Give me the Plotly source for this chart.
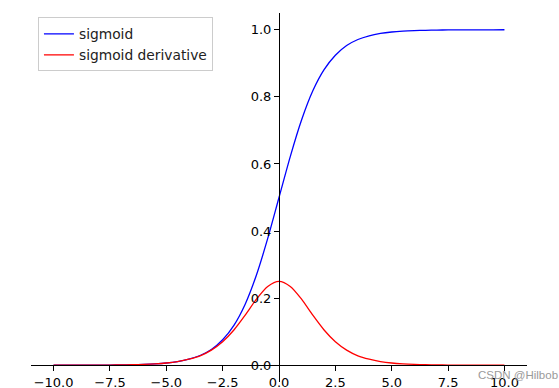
import plotly.graph_objects as go

x_vals = [-10, -9.5, -9, -8.5, -8, -7.5, -7, -6.5, -6, -5.5, -5, -4.5, -4, -3.5, -3,
          -2.5, -2, -1.5, -1, -0.5, 0, 0.5, 1, 1.5, 2, 2.5, 3, 3.5, 4, 4.5, 5,
          5.5, 6, 6.5, 7, 7.5, 8, 8.5, 9, 9.5, 10]
sigmoid_vals = [0.0000, 0.0001, 0.0001, 0.0002, 0.0003, 0.0006, 0.0009, 0.0015, 0.0025,
                0.0041, 0.0067, 0.011, 0.018, 0.029, 0.047, 0.076, 0.119, 0.182, 0.269,
                0.378, 0.500, 0.622, 0.731, 0.818, 0.881, 0.924, 0.953, 0.971, 0.982,
                0.989, 0.9933, 0.9959, 0.9975, 0.9985, 0.9991, 0.9994, 0.9997, 0.9998,
                0.9999, 0.9999, 1.0000]
deriv_vals = [0.0000, 0.0001, 0.0001, 0.0002, 0.0003, 0.0006, 0.0009, 0.0015, 0.0025,
              0.0041, 0.0066, 0.011, 0.018, 0.028, 0.045, 0.070, 0.105, 0.149, 0.197,
              0.235, 0.250, 0.235, 0.197, 0.149, 0.105, 0.070, 0.045, 0.028, 0.018,
              0.011, 0.0066, 0.0041, 0.0025, 0.0015, 0.0009, 0.0006, 0.0003, 0.0002,
              0.0001, 0.0001, 0.0000]

x_ticks = [-10.0, -7.5, -5.0, -2.5, 0.0, 2.5, 5.0, 7.5, 10.0]
x_tick_text = ["−10.0", "−7.5", "−5.0", "−2.5", "0.0", "2.5", "5.0", "7.5", "10.0"]
y_ticks = [0.0, 0.2, 0.4, 0.6, 0.8, 1.0]
y_tick_text = ["0.0", "0.2", "0.4", "0.6", "0.8", "1.0"]

FONT = "DejaVu Sans"
Y_LO, Y_HI = -0.05, 1.05

fig = go.Figure()
fig.add_trace(go.Scatter(x=x_vals, y=sigmoid_vals, mode="lines", name="sigmoid",
                         line=dict(color="#0000ff", width=1.3, shape="spline", smoothing=0.8)))
fig.add_trace(go.Scatter(x=x_vals, y=deriv_vals, mode="lines", name="sigmoid derivative",
                         line=dict(color="#ff0000", width=1.3, shape="spline", smoothing=0.8)))

fig.update_layout(
    width=559, height=388,
    margin=dict(l=31, r=32, t=13, b=6),
    paper_bgcolor="white", plot_bgcolor="white",
    font=dict(family=FONT, size=13, color="black"),
    showlegend=True,
    legend=dict(x=0.014, y=0.988, xanchor="left", yanchor="top",
                bordercolor="#cccccc", borderwidth=1, bgcolor="rgba(255,255,255,0.8)",
                font=dict(family=FONT, size=13.8, color="#222222"),
                itemwidth=30, tracegroupgap=0),
    xaxis=dict(range=[-11, 11], domain=[0, 1], showgrid=False, zeroline=False,
               showline=True, linecolor="black", linewidth=1, automargin=False,
               ticks="outside", ticklen=5, tickwidth=1, tickcolor="black",
               tickvals=x_ticks, ticktext=x_tick_text,
               anchor="free", position=(0 - Y_LO) / (Y_HI - Y_LO)),
    yaxis=dict(range=[Y_LO, Y_HI], showgrid=False, zeroline=False, automargin=False,
               showline=True, linecolor="black", linewidth=1,
               ticks="outside", ticklen=5, tickwidth=1, tickcolor="black",
               tickvals=y_ticks, ticktext=y_tick_text,
               anchor="free", position=0.5, side="left"),
)

fig.add_annotation(text="CSDN @Hilbob", xref="paper", yref="paper",
                   x=1.066, y=0.02, xanchor="right", yanchor="middle",
                   showarrow=False, font=dict(family="Liberation Sans", size=11.5, color="#9a9a9a"))

fig.write_html("out.html", config={"displayModeBar": False},
               post_script="document.body.style.margin='0';document.body.style.padding='0';")
